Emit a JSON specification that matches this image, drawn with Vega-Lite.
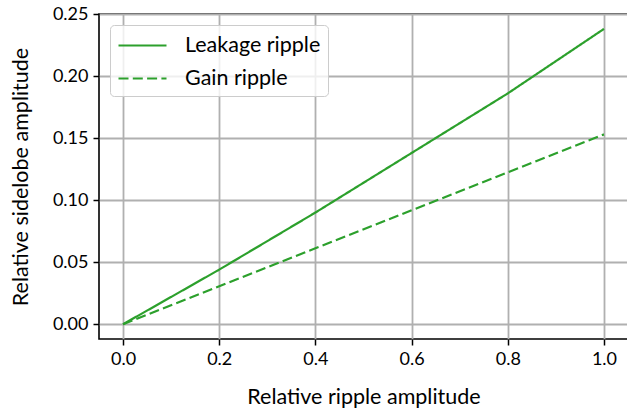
{
  "$schema": "https://vega.github.io/schema/vega-lite/v6.json",
  "width": 529,
  "height": 325,
  "autosize": {"type": "none"},
  "padding": {"left": 99, "top": 14, "right": 0, "bottom": 71},
  "config": {
    "font": "Lato",
    "view": {"stroke": "black", "strokeWidth": 1.6},
    "axis": {
      "domain": false,
      "grid": true,
      "gridColor": "#b0b0b0",
      "gridWidth": 1.8,
      "tickColor": "black",
      "tickWidth": 1.5,
      "tickSize": 6,
      "labelFontSize": 18,
      "labelColor": "black",
      "labelFont": "Lato",
      "titleFont": "Lato",
      "titleFontSize": 21.5,
      "titleFontWeight": "normal",
      "titleColor": "black",
      "labelPadding": 5
    },
    "legend": {
      "symbolType": "M-2,0H2",
      "symbolSize": 576,
      "symbolOffset": 12,
      "symbolStrokeWidth": 2.2,
      "labelFontSize": 21.5,
      "labelFont": "Lato",
      "labelColor": "black",
      "labelOffset": 29,
      "rowPadding": 9,
      "padding": 7,
      "fillColor": "rgba(255,255,255,0.8)",
      "strokeColor": "#cccccc",
      "cornerRadius": 4
    }
  },
  "data": {
    "values": [
      {"x": 0.0, "y": 0.0, "series": "Leakage ripple"},
      {"x": 0.1, "y": 0.022, "series": "Leakage ripple"},
      {"x": 0.2, "y": 0.044, "series": "Leakage ripple"},
      {"x": 0.3, "y": 0.067, "series": "Leakage ripple"},
      {"x": 0.4, "y": 0.090, "series": "Leakage ripple"},
      {"x": 0.5, "y": 0.114, "series": "Leakage ripple"},
      {"x": 0.6, "y": 0.138, "series": "Leakage ripple"},
      {"x": 0.7, "y": 0.162, "series": "Leakage ripple"},
      {"x": 0.8, "y": 0.186, "series": "Leakage ripple"},
      {"x": 0.9, "y": 0.212, "series": "Leakage ripple"},
      {"x": 1.0, "y": 0.238, "series": "Leakage ripple"},
      {"x": 0.0, "y": 0.0, "series": "Gain ripple"},
      {"x": 0.2, "y": 0.0306, "series": "Gain ripple"},
      {"x": 0.4, "y": 0.0612, "series": "Gain ripple"},
      {"x": 0.6, "y": 0.0918, "series": "Gain ripple"},
      {"x": 0.8, "y": 0.1224, "series": "Gain ripple"},
      {"x": 1.0, "y": 0.153, "series": "Gain ripple"}
    ]
  },
  "mark": {"type": "line", "strokeWidth": 2.2, "clip": true},
  "encoding": {
    "x": {
      "field": "x",
      "type": "quantitative",
      "title": "Relative ripple amplitude",
      "scale": {"domain": [-0.05, 1.05], "nice": false, "zero": false},
      "axis": {"values": [0, 0.2, 0.4, 0.6, 0.8, 1.0], "format": ".1f", "titlePadding": 18}
    },
    "y": {
      "field": "y",
      "type": "quantitative",
      "title": "Relative sidelobe amplitude",
      "scale": {"domain": [-0.0119, 0.25], "nice": false, "zero": false},
      "axis": {"values": [0, 0.05, 0.1, 0.15, 0.2, 0.25], "format": ".2f", "titlePadding": 20}
    },
    "color": {
      "field": "series",
      "type": "nominal",
      "sort": ["Leakage ripple", "Gain ripple"],
      "scale": {"domain": ["Leakage ripple", "Gain ripple"], "range": ["#2ca02c", "#2ca02c"]},
      "legend": {"title": null, "orient": "none", "legendX": 11, "legendY": 11}
    },
    "strokeDash": {
      "field": "series",
      "type": "nominal",
      "sort": ["Leakage ripple", "Gain ripple"],
      "scale": {"domain": ["Leakage ripple", "Gain ripple"], "range": [[1, 0], [10, 4.3]]},
      "legend": {"title": null, "orient": "none", "legendX": 11, "legendY": 11}
    }
  }
}
